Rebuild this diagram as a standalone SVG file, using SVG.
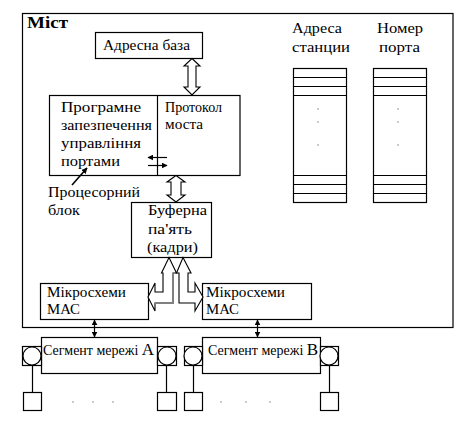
<svg xmlns="http://www.w3.org/2000/svg" width="468" height="427" viewBox="0 0 468 427">
<defs>
<style>
.b{fill:#fff;stroke:#000;stroke-width:1.2}
text{font-family:'Liberation Serif','Times New Roman',serif;fill:#000}
.t{font-size:15px}
.s{font-size:14px}
.l{stroke:#000;stroke-width:1.2;fill:none}
.h{fill:#fff;stroke:#000;stroke-width:1.1}
.d{fill:#888}
</style>
<marker id="ah" viewBox="0 0 10 10" refX="9" refY="5" markerWidth="6" markerHeight="6" orient="auto-start-reverse" markerUnits="userSpaceOnUse">
<path d="M0,0 L10,5 L0,10 Z" fill="#000"/>
</marker>
</defs>
<rect width="468" height="427" fill="#fff"/>

<g id="bridge">
<rect x="22.5" y="13.5" width="430.5" height="314" class="b"/>
<text x="27" y="28" font-size="17" font-weight="bold" textLength="41" lengthAdjust="spacingAndGlyphs">Міст</text>
</g>

<g id="address-base">
<rect x="95.5" y="32.5" width="107" height="26" class="b"/>
<text x="103" y="50" class="t" textLength="87" lengthAdjust="spacingAndGlyphs">Адресна база</text>
</g>

<g id="processor">
<rect x="49.5" y="95.5" width="190.5" height="80" class="b"/>
<line x1="157.5" y1="95.5" x2="157.5" y2="175.5" class="l"/>
<text x="61" y="112" class="t" textLength="80" lengthAdjust="spacingAndGlyphs">Програмне</text>
<text x="61" y="130" class="t" textLength="91" lengthAdjust="spacingAndGlyphs">запезпечення</text>
<text x="61" y="148" class="t" textLength="80" lengthAdjust="spacingAndGlyphs">управління</text>
<text x="61" y="166" class="t" textLength="59" lengthAdjust="spacingAndGlyphs">портами</text>
<text x="165" y="112" class="s" textLength="57" lengthAdjust="spacingAndGlyphs">Протокол</text>
<text x="165" y="129" class="s" textLength="38" lengthAdjust="spacingAndGlyphs">моста</text>
<text x="48" y="197" class="t" textLength="92" lengthAdjust="spacingAndGlyphs">Процесорний</text>
<text x="48" y="215" class="t" textLength="32" lengthAdjust="spacingAndGlyphs">блок</text>
</g>

<g id="buffer">
<rect x="131.5" y="202.5" width="80" height="55" class="b"/>
<text x="148" y="215" class="t" textLength="59" lengthAdjust="spacingAndGlyphs">Буферна</text>
<text x="148" y="234" class="t" textLength="44" lengthAdjust="spacingAndGlyphs">па'ять</text>
<text x="147" y="252" class="t" textLength="51" lengthAdjust="spacingAndGlyphs">(кадри)</text>
</g>

<g id="mac-left">
<rect x="40.5" y="283.5" width="108" height="36" class="b"/>
<text x="47" y="297" class="t" textLength="79" lengthAdjust="spacingAndGlyphs">Мікросхеми</text>
<text x="47" y="314" class="t" textLength="33" lengthAdjust="spacingAndGlyphs">МАС</text>
</g>

<g id="mac-right">
<rect x="202.5" y="283.5" width="109" height="36" class="b"/>
<text x="206" y="297" class="t" textLength="79" lengthAdjust="spacingAndGlyphs">Мікросхеми</text>
<text x="206" y="314" class="t" textLength="33" lengthAdjust="spacingAndGlyphs">МАС</text>
</g>

<g id="station-table">
<text x="292" y="33" class="t" textLength="50" lengthAdjust="spacingAndGlyphs">Адреса</text>
<text x="292" y="52" class="t" textLength="58" lengthAdjust="spacingAndGlyphs">станции</text>
<rect x="293.5" y="68.5" width="53" height="134" class="b"/>
<path d="M293.5,77.5H346.5M293.5,86.5H346.5M293.5,95.5H346.5M293.5,175.5H346.5M293.5,184.5H346.5M293.5,193.5H346.5" class="l"/>
<circle cx="318" cy="109" r="0.8" class="d"/>
<circle cx="318" cy="122" r="0.8" class="d"/>
<circle cx="318" cy="145" r="0.8" class="d"/>
</g>

<g id="port-table">
<text x="377" y="33" class="t" textLength="46" lengthAdjust="spacingAndGlyphs">Номер</text>
<text x="379" y="52" class="t" textLength="41" lengthAdjust="spacingAndGlyphs">порта</text>
<rect x="373.5" y="68.5" width="53" height="134" class="b"/>
<path d="M373.5,77.5H426.5M373.5,86.5H426.5M373.5,95.5H426.5M373.5,175.5H426.5M373.5,184.5H426.5M373.5,193.5H426.5" class="l"/>
<circle cx="398" cy="109" r="0.8" class="d"/>
<circle cx="398" cy="122" r="0.8" class="d"/>
<circle cx="398" cy="145" r="0.8" class="d"/>
</g>

<g id="segment-a">
<rect x="41.5" y="337.5" width="116" height="36" class="b"/>
<text x="43" y="355" class="s">Сегмент мережі <tspan font-size="17">A</tspan></text>
<rect x="22.5" y="346.5" width="19" height="19" class="b"/>
<circle cx="32" cy="356" r="9" class="b"/>
<rect x="157.5" y="346.5" width="19" height="19" class="b"/>
<circle cx="167" cy="356" r="9" class="b"/>
<line x1="32.5" y1="365" x2="32.5" y2="392" class="l"/>
<line x1="166.5" y1="365" x2="166.5" y2="392" class="l"/>
<rect x="23.5" y="392.5" width="18" height="18" class="b"/>
<rect x="157.5" y="392.5" width="19" height="18" class="b"/>
<circle cx="73" cy="402" r="0.8" class="d"/>
<circle cx="93" cy="402" r="0.8" class="d"/>
<circle cx="113" cy="402" r="0.8" class="d"/>
</g>

<g id="segment-b">
<rect x="202.5" y="337.5" width="118" height="36" class="b"/>
<text x="208" y="355" class="s">Сегмент мережі <tspan font-size="17">B</tspan></text>
<rect x="184.5" y="346.5" width="18" height="19" class="b"/>
<circle cx="193" cy="356" r="9" class="b"/>
<rect x="320.5" y="346.5" width="18" height="19" class="b"/>
<circle cx="329" cy="356" r="9" class="b"/>
<line x1="193.5" y1="365" x2="193.5" y2="392" class="l"/>
<line x1="329.5" y1="365" x2="329.5" y2="392" class="l"/>
<rect x="184.5" y="392.5" width="18" height="18" class="b"/>
<rect x="320.5" y="392.5" width="18" height="18" class="b"/>
<circle cx="221" cy="402" r="0.8" class="d"/>
<circle cx="246" cy="402" r="0.8" class="d"/>
<circle cx="270" cy="402" r="0.8" class="d"/>
</g>

<g id="connectors">
<path d="M192,58.5 L200,66 L196,66 L196,87 L200,87 L192,95 L184,87 L188,87 L188,66 L184,66 Z" class="h"/>
<path d="M176,175.5 L185,182 L181,182 L181,195 L185,195 L176,202 L167,195 L171,195 L171,182 L167,182 Z" class="h"/>
<path d="M169,257.5 L176.5,273 L173,273 L173,303 L155,303 L155,311 L148,297 L155,283 L155,292 L163,292 L163,273 L161.5,273 Z" class="h"/>
<path d="M173,273 L173,303 L155,303" fill="none" stroke="#808080" stroke-width="2"/>
<path d="M183,257.5 L191,273 L188,273 L188,292 L195,292 L195,283 L203,297 L195,311 L195,303 L179,303 L179,273 L176.5,273 Z" class="h"/>
<line x1="167" y1="157.5" x2="148" y2="157.5" class="l" marker-end="url(#ah)"/>
<line x1="148" y1="165.5" x2="167" y2="165.5" class="l" marker-end="url(#ah)"/>
<line x1="72" y1="185" x2="87" y2="168" stroke="#000" stroke-width="1.6" marker-end="url(#ah)"/>
<line x1="94.5" y1="320" x2="94.5" y2="337" class="l" marker-start="url(#ah)" marker-end="url(#ah)"/>
<line x1="257.5" y1="320" x2="257.5" y2="337" class="l" marker-start="url(#ah)" marker-end="url(#ah)"/>
</g>
</svg>
